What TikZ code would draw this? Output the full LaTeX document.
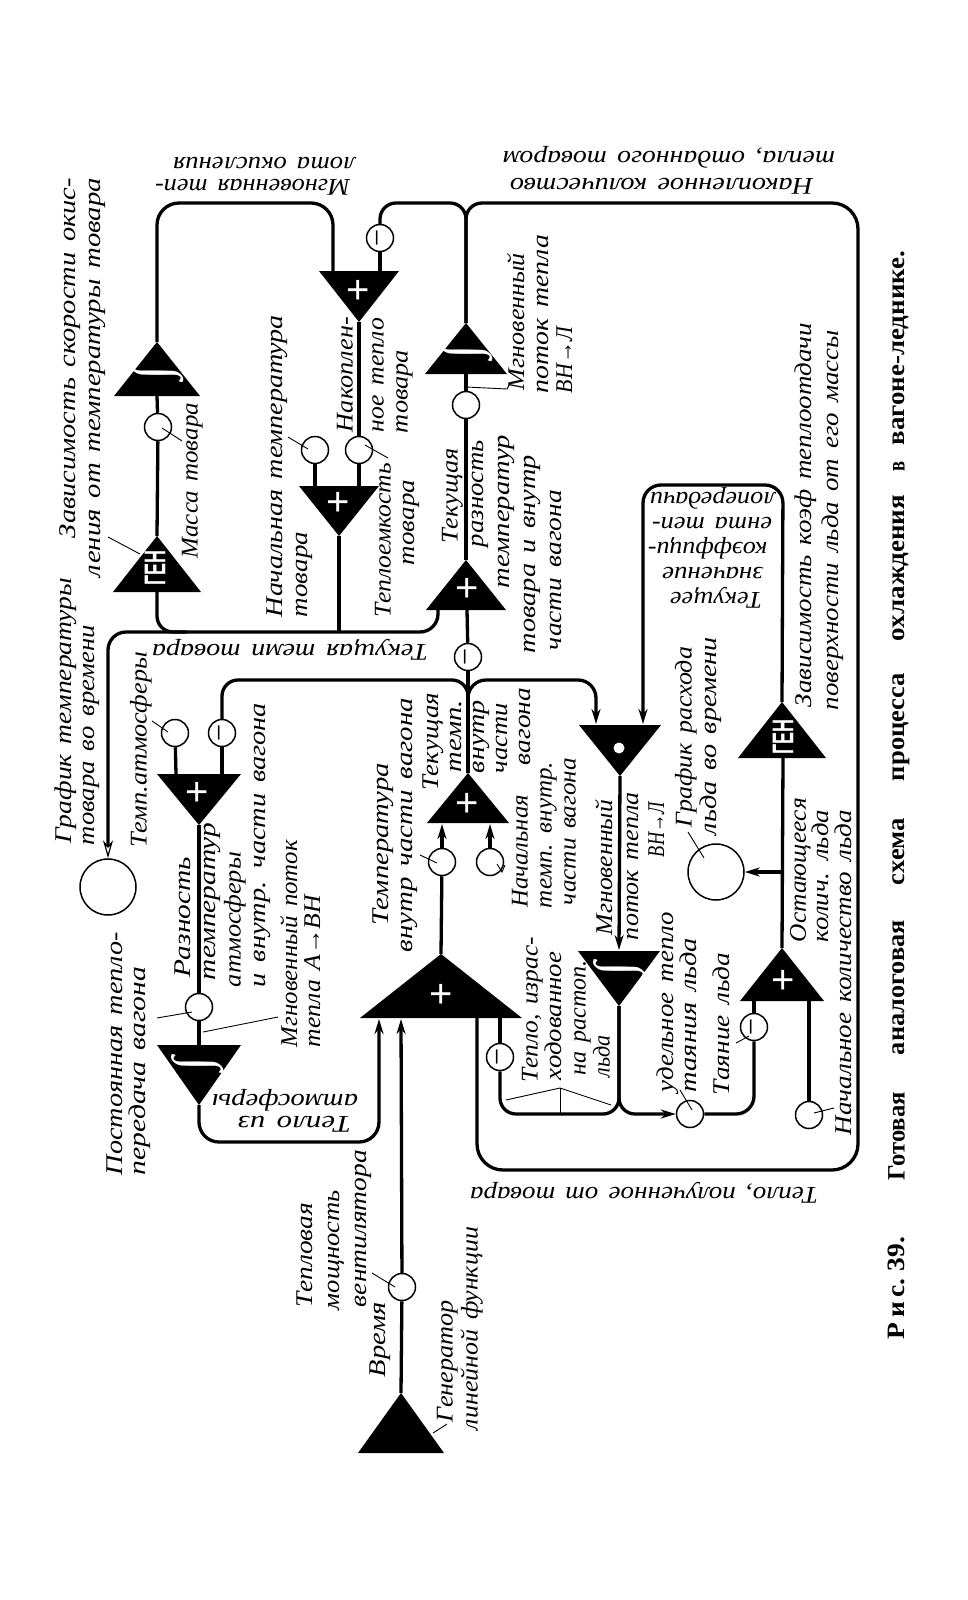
\documentclass[tikz,border=0pt]{standalone}
\usepackage{graphicx}
\usepackage{fontspec}
\usetikzlibrary{arrows.meta}
\setmainfont{Liberation Serif}
\newfontfamily\lbfam[FakeStretch=1.3,WordSpace=1.5]{Liberation Serif}
\newfontfamily\genfam[FakeStretch=0.6]{Liberation Sans}
\newfontfamily\sansfam{Liberation Sans}
\newcommand\fl[3]{\hspace*{#1pt}\resizebox{#2pt}{\height}{#3}}
\newcommand\cw[2]{\resizebox{#1pt}{\height}{#2}}
\newcommand\tri[5]{\fill (#2,#3) -- (#2+#5,#4) -- (#2-#5,#4) -- cycle; \coordinate (#1) at (#2,#3);}
\newcommand\intg{\rotatebox[origin=c]{90}{\resizebox{14pt}{38pt}{∫}}}
\newcommand\mns{\resizebox{17pt}{\height}{−}}
\tikzset{
  wire/.style={line width=3.3pt},
  lead/.style={line width=0.9pt},
  tip/.style={-{Stealth[length=15pt,width=9pt]}},
  circ/.style={circle,draw,fill=white,minimum size=27pt,inner sep=0pt,line width=1.5pt},
  bigcirc/.style={circle,draw,fill=white,minimum size=56pt,inner sep=0pt,line width=1.5pt},
  minus/.style={circ,rotate=90,font=\sansfam\fontsize{22}{22}\selectfont},
  labbase/.style={inner sep=0pt,outer sep=0pt,anchor=north west,align=left,font=\lbfam\itshape\fontsize{24}{24}\selectfont},
  lab/.style={labbase,rotate=90},
  flip/.style={labbase,rotate=180},
  plus/.style={text=white,inner sep=0pt,font=\sansfam\fontsize{40}{40}\selectfont},
  integ/.style={text=white,inner sep=0pt,font=\rmfamily\itshape\bfseries\fontsize{44}{44}\selectfont},
  gen/.style={text=white,inner sep=0pt,rotate=90,font=\genfam\bfseries\fontsize{30}{30}\selectfont},
}
\begin{document}
\begin{tikzpicture}[x=1pt,y=-1pt]
\useasboundingbox (0,0) rectangle (968,1600);
% triangles
\tri{tI1}{157}{342}{396}{43}
\tri{tG1}{157}{536}{592}{44}
\tri{tP1}{359}{322}{271}{40}
\tri{tP2}{339}{536}{486}{40}
\tri{tI2}{466}{323}{374}{41}
\tri{tP3}{466}{560}{610}{40}
\tri{tP4}{199}{825}{774}{42}
\tri{tP5}{468}{773}{823}{41}
\tri{tI3}{199}{1105}{1045}{42}
\tri{tB}{441}{954}{1018}{81}
\tri{tG2}{401}{1393}{1453}{43}
\tri{tD}{620}{776}{725}{41}
\tri{tI4}{619}{1006}{951}{41}
\tri{tG3}{782}{702}{758}{44}
\tri{tP6}{782}{948}{1001}{42}
% symbols in triangles
\node[plus] (sP1) at (358,292) {+};
\node[plus] (sP2) at (338,504) {+};
\node[plus] (sP3) at (467,590) {+};
\node[plus] (sP4) at (197,794) {+};
\node[plus] (sP5) at (467,805) {+};
\node[plus] (sB) at (441,996) {+};
\node[plus] (sP6) at (783,982) {+};
\node[integ] (sI1) at (158,376) {\intg};
\node[integ] (sI2) at (467,355) {\intg};
\node[integ] (sI3) at (198,1067) {\intg};
\node[integ] (sI4) at (620,972) {\intg};
\node[gen] (sG1) at (155,568) {ГЕН};
\node[gen] (sG3) at (783,737) {ГЕН};
\fill[white] (619,748) circle (5.5);
% circles
\node[circ] (cMass) at (158,427) {};
\node[circ] (cT0) at (315,450) {};
\node[circ] (cHC) at (359,450) {};
\node[circ] (cI2) at (466,405) {};
\node[circ] (cAtm) at (175,733) {};
\node[circ] (cA) at (199,1007) {};
\node[circ] (cTv) at (442,862) {};
\node[circ] (cTv0) at (490,862) {};
\node[circ] (cFan) at (402,1287) {};
\node[circ] (cMelt) at (690,1114) {};
\node[circ] (cIce0) at (809,1115) {};
\node[minus] (m1) at (380,238) {\mns};
\node[minus] (m2) at (468,657) {\mns};
\node[minus] (m3) at (222,733) {\mns};
\node[minus] (m4) at (500,1057) {\mns};
\node[minus] (m5) at (754,1027) {\mns};
\node[bigcirc] (gTov) at (108,887) {};
\node[bigcirc] (gIce) at (716,872) {};
% ports
\coordinate (yTop) at (0,203);
\coordinate (yT) at (0,632);
\coordinate (yV) at (0,680);
\coordinate (yI) at (0,1114);
\coordinate (bI1) at (157,396);
\coordinate (bG1) at (157,592);
\coordinate (bP1L) at (333,271);
\coordinate (bP1R) at (380,271);
\coordinate (bP2L) at (315,486);
\coordinate (bP2R) at (359,486);
\coordinate (bI2) at (466,374);
\coordinate (bP3) at (467,610);
\coordinate (bP3x) at (438,610);
\coordinate (bP4L) at (176,774);
\coordinate (bP4R) at (222,774);
\coordinate (bI3) at (199,1045);
\coordinate (bBa) at (379,1019);
\coordinate (bBb) at (401,1019);
\coordinate (bBc) at (477,1018);
\coordinate (bBd) at (500,1018);
\coordinate (bP5a) at (442,824);
\coordinate (bP5b) at (490,824);
\coordinate (bDa) at (596,724);
\coordinate (bDb) at (643,724);
\coordinate (bI4) at (619,950);
\coordinate (bG3) at (783,758);
\coordinate (bP6a) at (754,1001);
\coordinate (bP6b) at (809,1001);
\coordinate (cnrR) at (858,203);
\coordinate (cnrB) at (858,1170);
\coordinate (cnrL) at (477,1170);
\coordinate (yA) at (0,1142);
\coordinate (jIce) at (783,872);
\coordinate (boxTL) at (643,485);
\coordinate (boxTR) at (783,485);
\coordinate (arrG) at (108,858);
\coordinate (midTop) at (600,203);
% connectors
\draw[wire,rounded corners=22pt] (tI1) -- (tI1 |- yTop) -- (bP1L |- yTop) -- (bP1L);
\draw[wire] (m1) -- (bP1R);
\draw[wire,rounded corners=16pt] (m1) -- (m1 |- yTop) -- (tI2 |- yTop) -- (tI2);
\draw[wire,rounded corners=16pt] (tI2) -- (tI2 |- yTop) -- (midTop);
\draw[wire,rounded corners=26pt] (midTop) -- (cnrR) -- (cnrB) -- (cnrL) -- (bBc);
\draw[wire] (bI1) -- (cMass);
\draw[wire] (cMass) -- (tG1);
\draw[wire] (tP1) -- (cHC);
\draw[wire] (cT0) -- (bP2L);
\draw[wire] (cHC) -- (bP2R);
\draw[wire] (bI2) -- (cI2);
\draw[wire] (cI2) -- (tP3);
\draw[wire,rounded corners=16pt] (bG1) -- (bG1 |- yT) -- ++(30,0);
\draw[wire] (tP2) -- (tP2 |- yT);
\draw[wire,rounded corners=18pt,-{Stealth[open,length=18pt,width=10pt,line width=1.2pt]}] (bP3x) -- (bP3x |- yT) -- (arrG |- yT) -- (gTov);
\draw[wire] (bP3) -- (m2);
\draw[wire] (m2) -- (tP5);
\draw[wire,rounded corners=16pt] (tP5) -- (tP5 |- yV) -- (bP4R |- yV) -- (m3);
\draw[wire] (m3) -- (bP4R);
\draw[wire,tip,rounded corners=18pt] (tP5) -- (tP5 |- yV) -- (bDa |- yV) -- (bDa);
\draw[wire] (cAtm) -- (bP4L);
\draw[wire] (tP4) -- (cA);
\draw[wire] (cA) -- (bI3);
\draw[wire,tip,rounded corners=20pt] (tI3) -- (tI3 |- yA) -- (bBa |- yA) -- (bBa);
\draw[wire,tip] (cFan) -- (bBb);
\draw[wire] (tG2) -- (cFan);
\draw[wire] (tB) -- (cTv);
\draw[wire,tip] (cTv) -- (bP5a);
\draw[wire,tip] (cTv0) -- (bP5b);
\draw[wire] (bBd) -- (m4);
\draw[wire,rounded corners=16pt] (m4) -- (m4 |- yI) -- (tI4 |- yI) -- (tI4);
\draw[wire,tip,rounded corners=16pt] (tI4) -- (tI4 |- yI) -- (cMelt);
\draw[wire,tip] (tD) -- (bI4);
\draw[wire,rounded corners=18pt] (cMelt) -- (m5 |- yI) -- (m5);
\draw[wire] (m5) -- (bP6a);
\draw[wire] (cIce0) -- (bP6b);
\draw[wire,rounded corners=18pt,tip] (tG3) -- (boxTR) -- (boxTL) -- (bDb);
\draw[wire] (bG3) -- (tP6);
\draw[wire,tip] (jIce) -- (gIce);
% leader lines
\coordinate (l1a) at (182,441); \coordinate (l1b) at (162,428); \draw[lead] (l1a) -- (l1b);
\coordinate (l2a) at (108,537); \coordinate (l2b) at (140,554); \draw[lead] (l2a) -- (l2b);
\coordinate (l3a) at (288,437); \coordinate (l3b) at (308,449); \draw[lead] (l3a) -- (l3b);
\coordinate (l4a) at (388,458); \coordinate (l4b) at (365,445); \draw[lead] (l4a) -- (l4b);
\coordinate (l5a) at (466,387); \coordinate (l5b) at (507,389); \coordinate (l5c) at (510,383); \draw[lead] (l5a) -- (l5b) -- (l5c);
\coordinate (l6a) at (152,721); \coordinate (l6b) at (168,732); \draw[lead] (l6a) -- (l6b);
\coordinate (l7a) at (157,1018); \coordinate (l7b) at (192,1012); \draw[lead] (l7a) -- (l7b);
\coordinate (l8a) at (203,1032); \coordinate (l8b) at (278,1017); \draw[lead] (l8a) -- (l8b);
\coordinate (l9a) at (420,855); \coordinate (l9b) at (437,863); \draw[lead] (l9a) -- (l9b);
\coordinate (l10a) at (497,864); \coordinate (l10b) at (502,872); \coordinate (l10c) at (505,865); \draw[lead] (l10a) -- (l10b) -- (l10c);
\coordinate (l11a) at (688,832); \coordinate (l11b) at (704,858); \draw[lead] (l11a) -- (l11b);
\coordinate (l12a) at (372,1273); \coordinate (l12b) at (395,1287); \draw[lead] (l12a) -- (l12b);
\coordinate (l13a) at (433,1433); \coordinate (l13b) at (447,1424); \draw[lead] (l13a) -- (l13b);
\coordinate (l14a) at (680,1090); \coordinate (l14b) at (692,1110); \draw[lead] (l14a) -- (l14b);
\coordinate (l15a) at (736,1043); \coordinate (l15b) at (749,1036); \draw[lead] (l15a) -- (l15b);
\coordinate (l16a) at (834,1108); \coordinate (l16b) at (814,1113); \draw[lead] (l16a) -- (l16b);
\coordinate (l17a) at (560,1088); \coordinate (l17b) at (506,1100); \coordinate (l17c) at (611,1105); \coordinate (l17d) at (560,1114);
\draw[lead] (l17b) -- (l17a) -- (l17c); \draw[lead] (l17a) -- (l17d);
% labels
\node[lab] (L1) at (60,577) {\fl{39}{360}{Зависимость скорости окис-}\\[1pt]\fl{0}{399}{ления от температуры товара}};
\node[lab] (L2) at (182,558) {\fl{0}{155}{Масса товара}};
\node[lab] (L3) at (267,617) {\fl{0}{302}{Начальная температура}\\[1pt]\fl{0}{85}{товара}};
\node[lab] (L4) at (337,433) {\fl{1}{115}{Накоплен-}\\[7pt]\fl{1}{114}{ное тепло}\\\fl{0}{83}{товара}};
\node[lab] (L5) at (375,617) {\fl{0}{154}{Теплоемкость}\\\fl{52}{85}{товара}};
\node[lab] (L6) at (442,653) {\fl{110}{95}{Текущая}\\[2pt]\fl{106}{107}{разность}\\[2pt]\fl{65}{153}{температур}\\[2pt]\fl{0}{198}{товара и внутр}\\[2pt]\fl{3}{160}{части вагона}};
\node[lab] (L7) at (507,393) {\fl{3}{137}{Мгновенный}\\\fl{0}{158}{поток тепла}\\\fl{0}{66}{ВН→Л}};
\node[flip] (L8) at (355,195) {\fl{5}{195}{Мгновенная теп-}\\[-2pt]\fl{0}{182}{лота окисления}};
\node[flip] (L9) at (835,194) {\fl{22}{303}{Накопленное количество}\\[3pt]\fl{0}{332}{тепла, отданного товаром}};
\node[lab] (L10) at (795,710) {\fl{3}{384}{Зависимость коэф теплоотдачи}\\[3pt]\fl{0}{380}{поверхности льда от его массы}};
\node[lab] (L11) at (55,845) {\fl{2}{265}{График температуры}\\[-1pt]\fl{0}{220}{товара во времени}};
\node[flip] (L12) at (428,660) {\fl{0}{276}{Текущая темп товара}};
\node[lab] (L13) at (130,847) {\fl{0}{195}{Темп.атмосферы}};
\node[lab] (L14) at (107,1175) {\fl{0}{243}{Постоянная тепло-}\\[-1pt]\fl{0}{208}{передача вагона}};
\node[lab] (L15) at (175,987) {\fl{10}{120}{Разность}\\[1pt]\fl{7}{157}{температур}\\[1pt]\fl{0}{135}{атмосферы}\\[1pt]\fl{0}{284}{и внутр. части вагона}};
\node[lab] (L16) at (280,1047) {\fl{0}{207}{Мгновенный поток}\\[-1pt]\fl{0}{152}{тепла А→ВН}};
\node[lab] (L17) at (373,952) {\fl{27}{162}{Температура}\\\fl{0}{254}{внутр части вагона}};
\node[lab] (L18) at (423,790) {\fl{0}{97}{Текущая}\\[-1pt]\fl{18}{72}{темп.}};
\node[lab] (L19) at (473,773) {\fl{0}{73}{внутр}\\[-1pt]\fl{0}{70}{части}\\[-1pt]\fl{8}{77}{вагона}};
\node[lab] (L20) at (512,908) {\fl{1}{112}{Начальная}\\\fl{0}{146}{темп. внутр.}\\\fl{3}{147}{части вагона}};
\node[lab] (L21) at (595,940) {\fl{5}{135}{Мгновенный}\\[2pt]\fl{0}{148}{поток тепла}\\[2pt]\fl{83}{55}{ВН→Л}};
\node[lab] (L22) at (675,835) {\fl{8}{180}{График расхода}\\[1pt]\fl{0}{198}{льда во времени}};
\node[flip] (L23) at (775,608) {\fl{13}{92}{Текущее}\\[1pt]\fl{12}{101}{значение}\\[1pt]\fl{8}{119}{коэффици-}\\[1pt]\fl{3}{120}{ента теп-}\\[1pt]\fl{0}{125}{лопередачи}};
\node[lab] (L24) at (790,942) {\fl{0}{144}{Остающееся}\\[-1pt]\fl{0}{132}{колич. льда}};
\node[lab] (L25) at (835,1135) {\fl{0}{325}{Начальное количество льда}};
\node[lab] (L26) at (713,1095) {\fl{0}{142}{Таяние льда}};
\node[lab] (L27) at (657,1092) {\fl{0}{180}{удельное тепло}\\[-1pt]\fl{0}{154}{таяния льда}};
\node[lab] (L28) at (522,1082) {\fl{0}{145}{Тепло, израс-}\\\fl{2}{128}{ходованное}\\\fl{7}{115}{на растоп.}\\\fl{5}{42}{льда}};
\node[flip] (L29) at (358,1132) {\fl{7}{113}{Тепло из}\\[-2pt]\fl{0}{146}{атмосферы}};
\node[flip] (L30) at (818,1203) {\fl{0}{348}{Тепло, полученное от товара}};
\node[lab] (L31) at (297,1310) {\fl{3}{104}{Тепловая}\\[3pt]\fl{0}{120}{мощность}\\[3pt]\fl{3}{157}{вентилятора}};
\node[lab] (L32) at (370,1377) {\fl{0}{75}{Время}};
\node[lab] (L33) at (437,1430) {\fl{8}{122}{Генератор}\\[1pt]\fl{0}{203}{линейной функции}};
\node[rotate=90,inner sep=0pt,font=\rmfamily\bfseries\fontsize{25}{25}\selectfont] (cap) at (899,795) {\cw{102}{Р\,и\,с.\ 39.}\hspace{57pt}\cw{88}{Готовая}\hspace{37pt}\cw{135}{аналоговая}\hspace{35pt}\cw{67}{схема}\hspace{37pt}\cw{108}{процесса}\hspace{32pt}\cw{146}{охлаждения}\hspace{24pt}\cw{10}{в}\hspace{16pt}\cw{194}{вагоне-леднике.}};
\end{tikzpicture}
\end{document}
